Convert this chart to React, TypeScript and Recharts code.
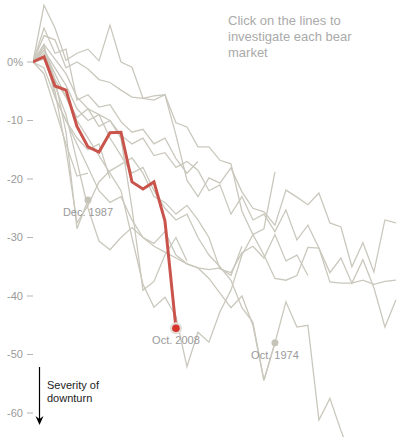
import React from 'react';
import { LineChart, Line, XAxis, YAxis } from 'recharts';

// months since market peak
const months = [0, 1, 2, 3, 4, 5, 6, 7, 8, 9, 10, 11, 12, 13, 14, 15, 16, 17, 18, 19, 20, 21, 22, 23, 24, 25, 26, 27, 28, 29, 30, 31, 32, 33];
const yTicks = [0, -10, -20, -30, -40, -50, -60];

// % change from peak
const oct2008 = [0, 0.9, -4.1, -4.8, -11, -14.5, -15.4, -12.1, -12.0, -20.5, -21.7, -20.5, -27.2, -45.5];
const dec1987 = [0, 2.5, -3, -12, -28.5, -23.6];
const oct1974 = [0, 2, -1, -4, -8, -10, -9, -13, -16, -19, -18, -22, -25, -27, -26, -30, -33, -35, -37.3, -42, -44.5, -54.4, -48];
const bearA = [0, 9.7, 5.8, 0.3, 1.5, 2.2, 0.2, 6.3, 0, -0.9, -6.2, -5.8, -5.6, -10.4, -11.1, -14.5, -14.5, -16.8, -17.4, -25.5, -29.5, -28.5, -18.8];
const bearB = [0, 4.5, 3.8, -1, 0, -1.2, -3, -3.5, -4.8, -6, -6.2, -6.5, -5.6, -12.5, -20.2, -23, -19.8, -20.7, -18.1, -22.2, -25, -25.6, -27.9, -21.9, -23.1, -24.4, -22.4, -27.5, -28.2, -35, -30.9, -35.9, -27, -27.5];
const bearC = [0, 1.5, -3, -6, -9.5, -8, -11, -10, -12.5, -14, -13, -16, -15.5, -18, -17, -18.5, -22, -21, -26, -23, -27, -26, -29, -25.3, -30.4, -27.9, -31.8, -36, -33.5, -37.8, -33.8, -38.6, -45.3, -40.7];
const bearD = [0, 1, -5, -15, -27.5, -24.5, -20.5, -18.6, -17.5, -16.4, -19, -23, -24, -26, -24.5, -27, -30, -35.4, -36, -32.6, -31.5, -33.5, -29.5, -34, -33, -36.5];
const bearE = [0, -1, -6, -10, -14, -18, -22, -24, -23, -27, -30, -31, -29, -33, -34.5, -35.2, -37, -39.5, -42, -40, -45, -54.4, -48, -41, -45.3, -45, -61.2, -57.5, -63, -68];
const bearF = [0, 2, -2, -6, -10, -13, -16, -19, -22, -30, -38, -41.9, -40.2, -43.5, -52.1, -46.2, -47.9, -42.7, -39, -33, -29.5, -33, -37, -37.3, -36.5, -31.7, -31.8, -37.6, -37.8, -37.8, -37.3, -38, -37.5, -37.3];
const bearG = [0, 0.5, -4, -9, -17, -25, -30.6, -32.1, -30, -28.3, -30, -31.5, -32.5, -33.5, -34.5, -35.2, -35.5, -35.2, -36.5, -31.5];
const bearH = [0, 3, 0.5, -2, -6, -8, -9, -10, -13, -25, -39, -37.5, -33, -30, -34];
const bearI = [0, 5.8, 1.5, 2.2, -6.5, -5.6, -7.7, -7.3, -10.2, -12, -11.5, -14, -13, -16.5, -19, -17];
const bearJ = [0, -2, -8, -14, -19.5, -19];
const bearK = [0, 3, -6, -10, -13, -15, -14, -19.9];

const grayKeys = ['bearA', 'bearB', 'bearC', 'bearD', 'bearE', 'bearF', 'bearG', 'bearH', 'bearI', 'bearJ', 'bearK', 'dec1987', 'oct1974'];
const series: Record<string, number[]> = { oct2008, dec1987, oct1974, bearA, bearB, bearC, bearD, bearE, bearF, bearG, bearH, bearI, bearJ, bearK };

const rows = months.map((m, i) => {
  const r: Record<string, number | undefined> = { m };
  Object.keys(series).forEach((k) => {
    r[k] = i < series[k].length ? series[k][i] : undefined;
  });
  return r;
});

const GRAY = '#cac8bd';
const RED = '#c9544c';
const FONT = 'Arial, "Liberation Sans", Helvetica, sans-serif';

const endDot = (len: number, label: string | null, red: boolean) => (props: any) => {
  const { cx, cy, index } = props;
  if (index !== len - 1 || cx == null || cy == null) return <g key={`d${index}`} />;
  return (
    <g key={`d${index}`}>
      {red ? (
        <>
          <circle cx={cx} cy={cy} r={6} fill="#e3ddd6" />
          <circle cx={cx} cy={cy} r={3.8} fill="#d6342c" />
        </>
      ) : (
        <circle cx={cx} cy={cy} r={3.5} fill="#c6c4b8" />
      )}
      {label && (
        <text x={cx} y={cy + 16} textAnchor="middle" fontSize={11} fill="#9a9a9a" fontFamily={FONT}>
          {label}
        </text>
      )}
    </g>
  );
};

const fmt = (v: number) => (v === 0 ? '0%' : String(v));

export default function App() {
  return (
    <div style={{ position: 'absolute', left: 0, top: 0, width: 397, height: 437, background: '#fff', fontFamily: FONT }}>
      <LineChart width={397} height={437} data={rows} margin={{ top: 0, right: 0, bottom: 0, left: 0 }}>
        <XAxis dataKey="m" type="number" domain={[0, 33.1]} hide allowDataOverflow />
        <YAxis
          type="number"
          domain={[-64.1, 10.6]}
          ticks={yTicks}
          allowDataOverflow
          width={33}
          axisLine={false}
          tickSize={6}
          tickMargin={4}
          tickLine={{ stroke: '#b5b5b5' }}
          tickFormatter={fmt}
          tick={{ fontSize: 11, fill: '#9a9a9a', fontFamily: FONT }}
        />
        {grayKeys.map((k) => (
          <Line
            key={k}
            dataKey={k}
            stroke={GRAY}
            strokeWidth={1.3}
            isAnimationActive={false}
            connectNulls={false}
            dot={k === 'dec1987' ? endDot(dec1987.length, 'Dec. 1987', false) : k === 'oct1974' ? endDot(oct1974.length, 'Oct. 1974', false) : false}
            activeDot={false}
          />
        ))}
        <Line
          dataKey="oct2008"
          stroke={RED}
          strokeWidth={3}
          isAnimationActive={false}
          dot={endDot(oct2008.length, 'Oct. 2008', true)}
          activeDot={false}
        />
      </LineChart>
      <svg width={397} height={437} style={{ position: 'absolute', left: 0, top: 0, pointerEvents: 'none' }}>
        <text fontSize={13} fill="#aaaaaa" fontFamily={FONT}>
          <tspan x={228} y={25}>Click on the lines to</tspan>
          <tspan x={228} y={41}>investigate each bear</tspan>
          <tspan x={228} y={57}>market</tspan>
        </text>
        <line x1={39.5} y1={367} x2={39.5} y2={420} stroke="#000" strokeWidth={1.2} />
        <path d="M35.5,416 L39.5,425 L43.5,416 L39.5,419 Z" fill="#000" />
        <text fontSize={11} fill="#222" fontFamily={FONT}>
          <tspan x={47} y={389}>Severity of</tspan>
          <tspan x={47} y={402}>downturn</tspan>
        </text>
      </svg>
    </div>
  );
}
